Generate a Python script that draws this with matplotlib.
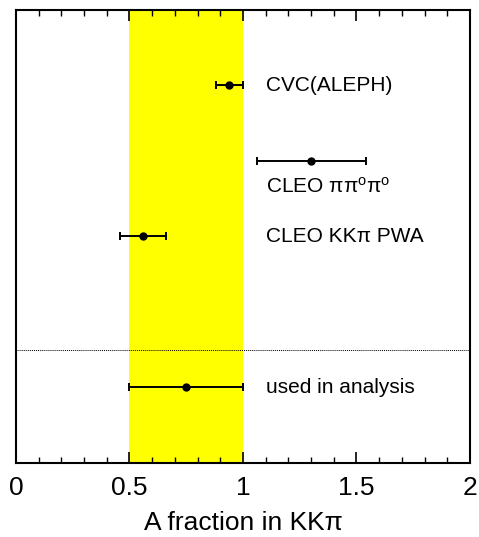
import matplotlib
matplotlib.use("Agg")
import matplotlib.pyplot as plt
from matplotlib.ticker import MultipleLocator

plt.rcParams['font.family'] = ['Liberation Sans', 'DejaVu Sans']
plt.rcParams['mathtext.fontset'] = 'custom'
plt.rcParams['mathtext.rm'] = 'Liberation Sans'
plt.rcParams['mathtext.it'] = 'Liberation Sans'

# measurements: value, error, row
labels = ["CVC(ALEPH)", r"CLEO $\mathrm{\pi\pi^{o}\pi^{o}}$", "CLEO KK\u03c0 PWA", "used in analysis"]
values = [0.94, 1.30, 0.56, 0.75]
errors = [0.06, 0.24, 0.10, 0.25]
rows = [5, 4, 3, 1]
label_rows = [5, 3.66, 3, 1]
band = (0.5, 1.0)
separator = 1.5

fig = plt.figure(figsize=(4.79, 5.37), dpi=100)
ax = fig.add_axes([0.0334, 0.1378, 0.9478, 0.8436])

ax.axvspan(band[0], band[1], color='#ffff00', zorder=0, lw=0)
ax.axhline(separator, color='black', lw=0.7, ls=(0, (1, 1)), zorder=1)

ax.errorbar(values, rows, xerr=errors, fmt='o', color='black', ms=5,
            elinewidth=1.4, capsize=2.6, capthick=1.4, zorder=3)

for lab, yr in zip(labels, label_rows):
    ax.text(1.10, yr, lab, fontsize=15, va='center', ha='left')

ax.set_xlim(0, 2)
ax.set_ylim(0, 6)
ax.set_yticks([])
ax.set_xticks([0, 0.5, 1, 1.5, 2])
ax.set_xticklabels(['0', '0.5', '1', '1.5', '2'])
ax.xaxis.set_minor_locator(MultipleLocator(0.1))
ax.tick_params(axis='x', which='both', direction='in', top=True, labelsize=19, pad=9)
ax.tick_params(axis='x', which='major', length=8, width=1.2)
ax.tick_params(axis='x', which='minor', length=4.5, width=1.0)
for s in ax.spines.values():
    s.set_linewidth(1.5)

ax.set_xlabel("A fraction in KK\u03c0", fontsize=19, labelpad=8)

fig.savefig("out.png", dpi=100)
